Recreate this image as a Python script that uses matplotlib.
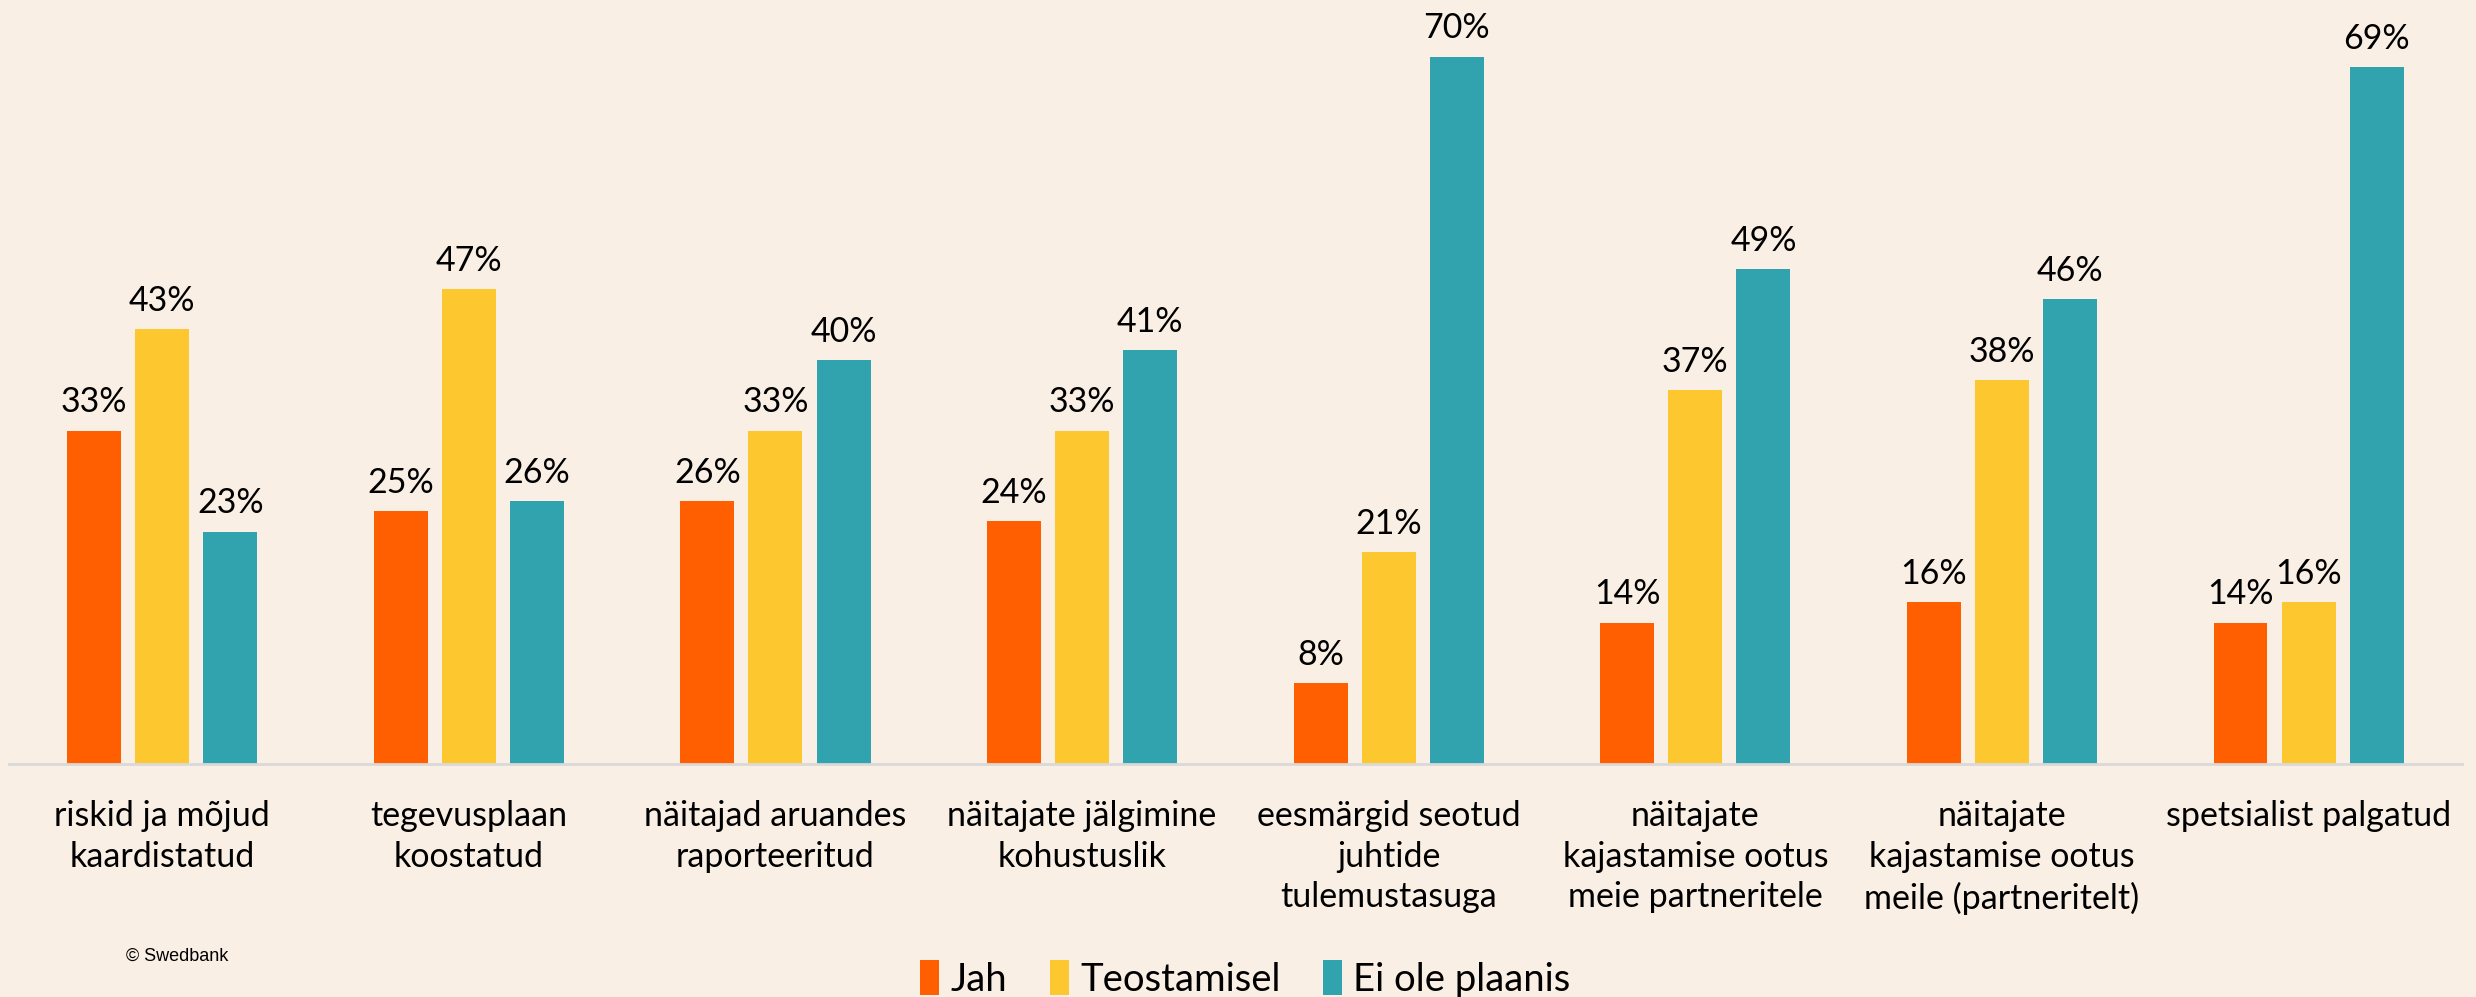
import matplotlib.pyplot as plt
import numpy as np

# survey categories (Estonian), shares in %
categories = [
    "riskid ja mõjud\nkaardistatud",
    "tegevusplaan\nkoostatud",
    "näitajad aruandes\nraporteeritud",
    "näitajate jälgimine\nkohustuslik",
    "eesmärgid seotud\njuhtide\ntulemustasuga",
    "näitajate\nkajastamise ootus\nmeie partneritele",
    "näitajate\nkajastamise ootus\nmeile (partneritelt)",
    "spetsialist palgatud",
]
jah = [33, 25, 26, 24, 8, 14, 16, 14]
teostamisel = [43, 47, 33, 33, 21, 37, 38, 16]
ei_ole = [23, 26, 40, 41, 70, 49, 46, 69]

series_names = ["Jah", "Teostamisel", "Ei ole plaanis"]
colors = ["#FF5F00", "#FDC82F", "#31A3AE"]
bg = "#F9EFE5"

plt.rcParams['font.family'] = ['Lato', 'DejaVu Sans']

fig = plt.figure(figsize=(24.76, 9.97), dpi=100, facecolor=bg)
ax = fig.add_axes([0.0036, 0.2337, 0.9907, 0.7663])
ax.set_facecolor(bg)

x = np.arange(len(categories))
width = 0.176
pitch = 0.222
for k, (vals, name, col) in enumerate(zip([jah, teostamisel, ei_ole], series_names, colors)):
    pos = x + (k - 1) * pitch
    bars = ax.bar(pos, vals, width, color=col, label=name)
    for b, v in zip(bars, vals):
        ax.text(b.get_x() + b.get_width() / 2, v + 1.2, f"{v}%",
                ha='center', va='bottom', fontsize=24.5, color='black')

ax.set_xlim(-0.5, len(categories) - 0.5)
ax.set_ylim(0, 75.6)
ax.set_yticks([])
ax.set_xticks(x)
ax.set_xticklabels(categories, fontsize=24.5, linespacing=1.33)
ax.tick_params(axis='x', length=0, pad=26)
for s in ['top', 'right', 'left']:
    ax.spines[s].set_visible(False)
ax.spines['bottom'].set_color('#D9D9D9')
ax.spines['bottom'].set_linewidth(2)

fig.legend(loc='lower center', bbox_to_anchor=(0.503, -0.035), ncol=3, frameon=False,
           fontsize=27.5, handlelength=0.5, handleheight=1.0, handletextpad=0.3,
           columnspacing=1.1)

fig.text(0.051, 0.036, "© Swedbank", fontsize=13, family=['Liberation Sans', 'DejaVu Sans'])

fig.savefig("out.png", dpi=100, facecolor=bg)
